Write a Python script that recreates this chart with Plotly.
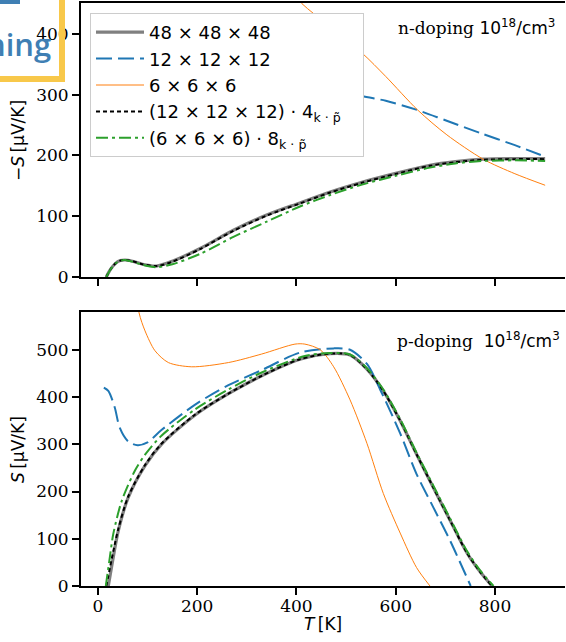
import plotly.graph_objects as go

# ---------------- data ----------------
# top panel: n-doping, -S [uV/K]
T_n_48 = [17, 25, 35, 45, 55, 70, 90, 118, 150, 206, 273, 340, 407, 468, 532, 602, 669, 720, 776, 840, 901]
S_n_48 = [0, 12, 22, 27, 28, 26, 21, 18, 26, 47, 77, 102, 122, 140, 156, 171, 184, 190, 194, 195, 195]
T_n_12 = [15, 100, 200, 300, 400, 470, 532, 580, 643, 700, 770, 840, 901]
S_n_12 = [420, 400, 375, 350, 327, 312, 298, 290, 275, 258, 237, 217, 198]
T_n_6 = [300, 360, 411, 434, 480, 533, 580, 644, 703, 776, 840, 901]
S_n_6 = [560, 500, 450, 434, 402, 368, 330, 275, 234, 194, 170, 151]
T_n_12kp = [17, 25, 35, 45, 55, 70, 90, 118, 150, 206, 273, 340, 407, 468, 532, 602, 669, 720, 776, 840, 901]
S_n_12kp = [0, 12, 22, 27, 28, 26, 21, 18, 25, 46, 76, 101, 121, 139, 155, 170, 183, 189, 193, 194, 194]
T_n_6kp = [17, 25, 35, 45, 55, 70, 90, 118, 150, 206, 273, 340, 407, 468, 532, 602, 669, 720, 776, 840, 901]
S_n_6kp = [0, 12, 22, 27, 28, 25, 20, 16, 21, 38, 66, 91, 116, 135, 152, 167, 180, 187, 191, 192, 191]

# bottom panel: p-doping, S [uV/K]
T_p_48 = [21, 30, 41, 61, 95, 128, 196, 263, 330, 407, 468, 508, 542, 575, 609, 642, 676, 710, 743, 770, 794]
S_p_48 = [0, 55, 116, 187, 255, 300, 362, 407, 445, 480, 492, 489, 459, 413, 350, 279, 208, 138, 71, 30, 0]
T_p_12 = [12, 21, 34, 44, 61, 80, 100, 128, 196, 263, 330, 407, 475, 508, 542, 569, 609, 642, 676, 710, 751]
S_p_12 = [420, 413, 378, 335, 306, 298, 304, 330, 384, 425, 457, 494, 503, 500, 470, 415, 323, 237, 166, 95, 0]
T_p_6 = [70, 83, 95, 115, 142, 189, 263, 330, 397, 417, 448, 475, 508, 542, 575, 609, 642, 669]
S_p_6 = [680, 578, 540, 498, 473, 464, 473, 491, 512, 512, 500, 464, 394, 302, 196, 112, 39, 0]
T_p_12kp = [17, 30, 41, 61, 95, 128, 196, 263, 330, 407, 468, 508, 542, 575, 609, 642, 676, 710, 743, 770, 794]
S_p_12kp = [0, 68, 120, 189, 256, 301, 363, 407, 445, 480, 492, 489, 459, 413, 350, 279, 208, 138, 71, 30, 0]
T_p_6kp = [16, 24, 31, 48, 75, 95, 128, 196, 263, 330, 417, 468, 508, 542, 575, 609, 642, 676, 710, 743, 770, 797]
S_p_6kp = [0, 60, 110, 180, 245, 278, 318, 374, 416, 452, 487, 493, 490, 461, 416, 353, 282, 212, 142, 75, 33, 0]

names = ["48 × 48 × 48", "12 × 12 × 12", "6 × 6 × 6",
         "(12 × 12 × 12) · 4<sub>k · p\u0303</sub>\u00a0\u00a0\u00a0",
         "(6 × 6 × 6) · 8<sub>k · p\u0303</sub>"]

x_ticks = [0, 200, 400, 600, 800]
y_ticks_n = [0, 100, 200, 300, 400]
y_ticks_p = [0, 100, 200, 300, 400, 500]

# ---------------- styles ----------------
styles = [
    dict(color="#808080", width=3.2),
    dict(color="#1f77b4", width=2, dash="16px,6px"),
    dict(color="#ff7f0e", width=1),
    dict(color="black", width=2, dash="4px,3px"),
    dict(color="#2ca02c", width=2, dash="12px,4px,3px,4px"),
]

W, H = 566, 642
PL, PR, PT, PB = 81, 565, 3, 586
PW, PH = PR - PL, PB - PT


def px(x):
    return (x - PL) / PW


def py(y):
    return 1 - (y - PT) / PH


fig = go.Figure()
top = [(T_n_48, S_n_48), (T_n_12, S_n_12), (T_n_6, S_n_6), (T_n_12kp, S_n_12kp), (T_n_6kp, S_n_6kp)]
bot = [(T_p_48, S_p_48), (T_p_12, S_p_12), (T_p_6, S_p_6), (T_p_12kp, S_p_12kp), (T_p_6kp, S_p_6kp)]
for i, (t, s) in enumerate(top):
    fig.add_trace(go.Scatter(x=t, y=s, mode="lines", name=names[i], line=dict(shape="spline", smoothing=0.8, **styles[i]),
                             xaxis="x", yaxis="y", showlegend=True))
for i, (t, s) in enumerate(bot):
    fig.add_trace(go.Scatter(x=t, y=s, mode="lines", name=names[i], line=dict(shape="spline", smoothing=0.8, **styles[i]),
                             xaxis="x2", yaxis="y2", showlegend=False))

tickfont = dict(family="DejaVu Serif", size=17, color="black")
axcommon = dict(showline=True, linecolor="black", linewidth=2, ticks="outside", ticklen=7, tickwidth=1.5,
                tickcolor="black", showgrid=False, zeroline=False, tickfont=tickfont)

fig.update_layout(
    width=W, height=H,
    margin=dict(l=PL, r=W - PR, t=PT, b=H - PB),
    paper_bgcolor="white", plot_bgcolor="white",
    xaxis=dict(domain=[0, 1], anchor="y", range=[-34, 941], tickvals=x_ticks, showticklabels=False,
               mirror=True, **axcommon),
    yaxis=dict(domain=[py(277), 1], anchor="x", range=[0, 451], tickvals=y_ticks_n, **axcommon),
    xaxis2=dict(domain=[0, 1], anchor="y2", range=[-34, 941], tickvals=x_ticks, mirror=True,
                ticklabelstandoff=-3, **axcommon),
    yaxis2=dict(domain=[0, py(312)], anchor="x2", range=[0, 580], tickvals=y_ticks_p, **axcommon),
    legend=dict(x=px(90), y=py(13), xanchor="left", yanchor="top", bgcolor="white",
                bordercolor="#cccccc", borderwidth=1, tracegroupgap=0, itemwidth=48,
                font=dict(family="DejaVu Sans", size=18, color="black")),
    showlegend=True,
)

labfont = dict(family="DejaVu Sans", size=17, color="black")
ann = [
    dict(text="\u2212<i>S</i>\u2009[μV/K]", x=px(18), y=py(140), textangle=-90, font=labfont),
    dict(text="<i>S</i>\u2009[μV/K]", x=px(18), y=py(449), textangle=-90, font=labfont),
    dict(text="<i>T</i>\u2009[K]", x=px(323), y=py(624), font=labfont),
    dict(text="n-doping <span style='font-family:DejaVu Sans'>10<sup>18</sup>/cm<sup>3</sup></span>",
         x=px(557), y=py(27), xanchor="right", font=dict(family="DejaVu Serif", size=17, color="black")),
    dict(text="p-doping\u00a0\u00a0<span style='font-family:DejaVu Sans'>10<sup>18</sup>/cm<sup>3</sup></span>",
         x=px(562), y=py(340), xanchor="right", font=dict(family="DejaVu Serif", size=17, color="black")),
    dict(text="ning", x=px(53), y=py(44), xanchor="right",
         font=dict(family="Open Sans", size=31, color="#3f7fb4", weight=600)),
]
for a in ann:
    a.setdefault("xanchor", "center")
    a.update(xref="paper", yref="paper", yanchor="middle", showarrow=False)
fig.update_layout(annotations=ann)

yellow = "#f8c84a"
fig.update_layout(shapes=[
    dict(type="line", xref="paper", yref="paper", x0=px(62), x1=px(62), y0=py(-2), y1=py(82),
         line=dict(color=yellow, width=6), layer="above"),
    dict(type="line", xref="paper", yref="paper", x0=px(-2), x1=px(65), y0=py(79), y1=py(79),
         line=dict(color=yellow, width=6), layer="above"),
    dict(type="rect", xref="paper", yref="paper", x0=px(-2), x1=px(20), y0=py(4), y1=py(-2),
         fillcolor="#3f7fb4", line=dict(width=0), layer="above"),
])

fig.write_html("out.html", config={"displayModeBar": False},
               post_script="document.body.style.margin='0';document.body.style.overflow='hidden';")
